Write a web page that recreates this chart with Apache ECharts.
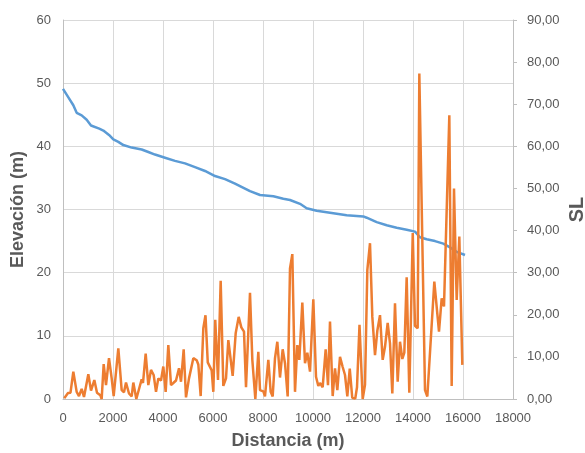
<!DOCTYPE html>
<html>
<head>
<meta charset="utf-8">
<script src="https://cdn.jsdelivr.net/npm/echarts@6/dist/echarts.min.js"></script>
<style>html,body{margin:0;padding:0;background:#fff}#c{width:585px;height:453px}</style>
</head>
<body>
<div id="c"></div>
<script>
// Elevación (m) vs distancia (m)
const elevDist = [0,50,240,413,547,747,947,1120,1450,1613,1840,2013,2213,2413,2747,3147,3413,3680,4080,4480,4880,5280,5680,6080,6480,6880,7280,7480,7880,8413,8813,9080,9480,9747,10147,10680,11347,12013,12147,12547,12947,13347,13747,14080,14280,14547,14880,15213,15480,15747,16080];
const elevValues = [49.1,49.0,47.6,46.5,45.3,44.9,44.2,43.3,42.8,42.5,41.8,41.1,40.7,40.2,39.8,39.5,39.1,38.7,38.2,37.7,37.3,36.7,36.1,35.3,34.8,34.1,33.3,32.9,32.3,32.1,31.7,31.5,30.9,30.2,29.8,29.5,29.1,28.9,28.7,28.0,27.5,27.1,26.8,26.5,25.6,25.3,25.0,24.6,24.0,23.3,22.8];

// SL vs distancia (m)
const slDist = [50,200,300,413,547,640,747,840,1013,1120,1253,1360,1493,1547,1627,1720,1840,1947,2027,2213,2347,2440,2520,2640,2747,2813,2933,3147,3200,3307,3413,3520,3627,3720,3813,3920,4013,4107,4213,4320,4413,4520,4640,4720,4827,4920,5040,5213,5347,5413,5507,5613,5700,5790,5947,6013,6090,6200,6307,6413,6520,6613,6693,6787,6907,7027,7133,7240,7320,7480,7573,7693,7813,7880,8013,8080,8213,8307,8387,8480,8573,8680,8787,8880,8987,9080,9173,9280,9373,9453,9573,9680,9773,9880,10013,10120,10213,10280,10387,10507,10600,10680,10787,10880,10973,11080,11187,11280,11373,11470,11570,11690,11760,11860,11987,12080,12173,12280,12373,12480,12573,12680,12787,12880,12987,13080,13173,13280,13387,13480,13573,13653,13747,13853,13990,14080,14187,14253,14480,14573,14853,15040,15147,15240,15453,15547,15640,15747,15853,15973];
const slValues = [0.2,1.4,1.5,6.5,1.7,0.7,2.4,0.5,5.9,2.0,4.5,1.5,0.9,0.0,8.3,3.3,9.7,4.9,0.7,12.0,2.1,1.6,3.9,1.3,0.6,3.9,0.0,4.7,3.8,10.8,3.3,6.9,5.7,1.7,4.9,4.4,7.7,1.7,12.8,3.3,3.8,4.4,7.3,4.1,11.8,0.4,4.9,9.7,9.2,8.2,0.7,16.8,19.9,8.7,6.8,1.7,18.8,4.5,28.1,3.1,4.9,14.0,13.9,5.5,15.6,19.5,17.0,16.0,2.8,25.2,9.3,0.0,11.2,2.1,1.8,0.6,9.3,1.7,0.6,9.7,13.6,5.1,11.8,8.5,0.6,31.0,34.4,1.7,12.8,9.3,22.9,8.5,11.0,6.5,23.7,5.3,3.1,3.8,2.8,11.8,3.3,18.4,0.7,7.3,2.1,10.0,7.6,5.7,0.6,7.2,0.3,0.1,2.8,17.6,0.0,3.4,30.6,37.0,19.5,10.4,16.2,19.9,9.3,12.4,18.1,13.2,1.3,22.7,4.1,13.6,9.5,11.0,28.9,1.5,39.4,17.4,16.8,77.3,2.1,0.6,27.9,16.0,23.9,22.0,67.4,3.1,50.0,23.5,38.6,8.1];

const xTicks = [0,2000,4000,6000,8000,10000,12000,14000,16000,18000];
const leftTicks = [0,10,20,30,40,50,60];
const rightTicks = [0,10,20,30,40,50,60,70,80,90];

const txt = '#595959';
const font = 'Liberation Sans';
const chart = echarts.init(document.getElementById('c'), null, {renderer: 'canvas'});
chart.setOption({
  animation: false,
  backgroundColor: '#fff',
  grid: {left: 63, right: 72, top: 20, bottom: 54, containLabel: false, outerBoundsMode: 'none'},
  xAxis: {
    type: 'value', min: xTicks[0], max: xTicks[xTicks.length - 1], interval: xTicks[1] - xTicks[0],
    name: 'Distancia (m)', nameLocation: 'middle', nameGap: 33, nameMoveOverlap: false,
    nameTextStyle: {color: txt, fontSize: 18, fontWeight: 'bold', fontFamily: font},
    axisLine: {show: true, lineStyle: {color: '#BFBFBF', width: 1}},
    axisTick: {show: false},
    axisLabel: {color: txt, fontSize: 13, fontFamily: font, margin: 13, formatter: v => String(v)},
    splitLine: {show: true, lineStyle: {color: '#D9D9D9', width: 1}}
  },
  yAxis: [{
    type: 'value', min: leftTicks[0], max: leftTicks[leftTicks.length - 1], interval: leftTicks[1] - leftTicks[0],
    position: 'left',
    name: 'Elevación (m)', nameLocation: 'middle', nameGap: 36, nameRotate: 90, nameMoveOverlap: false,
    nameTextStyle: {color: txt, fontSize: 18, fontWeight: 'bold', fontFamily: font},
    axisLine: {show: true, lineStyle: {color: '#BFBFBF', width: 1}},
    axisTick: {show: false},
    axisLabel: {color: txt, fontSize: 13, fontFamily: font, margin: 12, formatter: v => String(v)},
    splitLine: {show: true, lineStyle: {color: '#D9D9D9', width: 1}}
  }, {
    type: 'value', min: rightTicks[0], max: rightTicks[rightTicks.length - 1], interval: rightTicks[1] - rightTicks[0],
    position: 'right',
    name: 'SL', nameLocation: 'middle', nameGap: 54, nameRotate: 90, nameMoveOverlap: false,
    nameTextStyle: {color: txt, fontSize: 20, fontWeight: 'bold', fontFamily: font},
    axisLine: {show: true, lineStyle: {color: '#BFBFBF', width: 1}},
    axisTick: {show: true, length: 4, lineStyle: {color: '#BFBFBF'}},
    axisLabel: {color: txt, fontSize: 13, fontFamily: font, margin: 14,
      formatter: v => v.toFixed(2).replace('.', ',')},
    splitLine: {show: false}
  }],
  series: [{
    name: 'Elevación', type: 'line', yAxisIndex: 0, showSymbol: false, symbol: 'none',
    data: elevDist.map((d, i) => [d, elevValues[i]]),
    lineStyle: {color: '#5B9BD5', width: 2.5}, itemStyle: {color: '#5B9BD5'}
  }, {
    name: 'SL', type: 'line', yAxisIndex: 1, showSymbol: false, symbol: 'none',
    data: slDist.map((d, i) => [d, slValues[i]]),
    lineStyle: {color: '#ED7D31', width: 2.5}, itemStyle: {color: '#ED7D31'}
  }]
});
</script>
</body>
</html>
